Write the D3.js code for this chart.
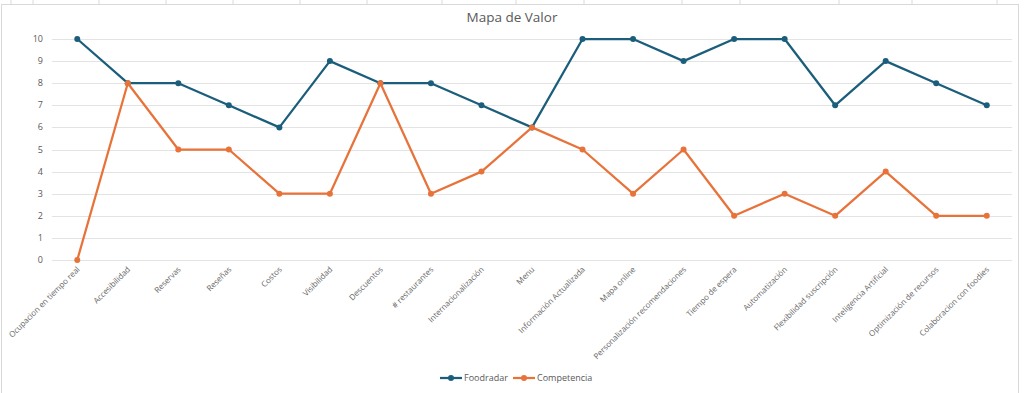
<!DOCTYPE html>
<html>
<head>
<meta charset="utf-8">
<script src="https://cdn.jsdelivr.net/npm/d3@7"></script>
<style>
  body { margin: 0; background: #fff; }
  text { font-family: "Open Sans", "Liberation Sans", sans-serif; }
</style>
</head>
<body>
<div id="chart"></div>
<script>
var w = 1024;
var h = 393;

var categories = ["Ocupacion en tiempo real", "Accesibilidad", "Reservas", "Reseñas", "Costos",
  "Visibilidad", "Descuentos", "# restaurantes", "Internacionalización", "Menu",
  "Información Actualizada", "Mapa online", "Personalización recomendaciones", "Tiempo de espera",
  "Automatización", "Flexibilidad suscripción", "Inteligencia Artificial",
  "Optimización de recursos", "Colaboracion con foodies"];
var foodradar = [10, 8, 8, 7, 6, 9, 8, 8, 7, 6, 10, 10, 9, 10, 10, 7, 9, 8, 7];
var competencia = [0, 8, 5, 5, 3, 3, 8, 3, 4, 6, 5, 3, 5, 2, 3, 2, 4, 2, 2];
var yTicks = [0, 1, 2, 3, 4, 5, 6, 7, 8, 9, 10];
var seriesNames = ["Foodradar", "Competencia"];
var colors = ["#1b5e7c", "#e8733a"];

var svg1 = d3.select("#chart").append("svg")
  .attr("width", w).attr("height", h);

// spreadsheet cell lines peeking above the chart box
var cellLines = [11, 33, 99, 166, 233, 300, 367, 442, 516, 584, 682, 740, 839, 912, 997];
svg1.selectAll(".cell").data(cellLines).enter().append("line")
  .attr("x1", function(d) { return d; }).attr("x2", function(d) { return d; })
  .attr("y1", 0).attr("y2", 4)
  .style("stroke", "#dadada").style("stroke-width", 1);

// chart frame
svg1.append("rect")
  .attr("x", 1.5).attr("y", 4.5).attr("width", 1017).attr("height", 400)
  .attr("fill", "#fff").attr("stroke", "#d9d9d9").attr("stroke-width", 1);

var x = d3.scaleBand().domain(categories).range([52, 1012]);
var y = d3.scaleLinear().domain([0, 10]).range([260, 39]);

// gridlines
svg1.selectAll(".grid").data(yTicks).enter().append("line")
  .attr("x1", 52).attr("x2", 1012)
  .attr("y1", function(d) { return Math.round(y(d)) + 0.5; })
  .attr("y2", function(d) { return Math.round(y(d)) + 0.5; })
  .style("stroke", "#e3e3e3").style("stroke-width", 1);

// y labels
svg1.selectAll(".ylab").data(yTicks).enter().append("text")
  .attr("x", 43)
  .attr("y", function(d) { return y(d) + 3; })
  .attr("text-anchor", "end")
  .style("font-size", "9px").style("fill", "#595959")
  .text(function(d) { return d; });

// x labels
svg1.selectAll(".xlab").data(categories).enter().append("text")
  .attr("transform", function(d) {
    return "translate(" + (x(d) + x.bandwidth() / 2 + 3) + ",270) rotate(-45)";
  })
  .attr("text-anchor", "end")
  .style("font-size", "8px").style("fill", "#666666")
  .text(function(d) { return d; });

// title
svg1.append("text")
  .attr("x", 512).attr("y", 22)
  .attr("text-anchor", "middle")
  .style("font-size", "13.5px").style("fill", "#595959")
  .text("Mapa de Valor");

function drawSeries(values, color) {
  var line = d3.line()
    .x(function(d, i) { return x(categories[i]) + x.bandwidth() / 2; })
    .y(function(d) { return y(d); });
  svg1.append("path").datum(values)
    .attr("d", line)
    .attr("fill", "none")
    .attr("stroke", color)
    .attr("stroke-width", 2.25)
    .attr("stroke-linejoin", "round");
  svg1.selectAll(null).data(values).enter().append("circle")
    .attr("cx", function(d, i) { return x(categories[i]) + x.bandwidth() / 2; })
    .attr("cy", function(d) { return y(d); })
    .attr("r", 3)
    .attr("fill", color);
}

drawSeries(foodradar, colors[0]);
drawSeries(competencia, colors[1]);

// legend
var legendX = [440, 513];
seriesNames.forEach(function(name, i) {
  var g = svg1.append("g").attr("transform", "translate(" + legendX[i] + ",378)");
  g.append("line").attr("x1", 0).attr("x2", 22).attr("y1", 0).attr("y2", 0)
    .attr("stroke", colors[i]).attr("stroke-width", 2.25);
  g.append("circle").attr("cx", 11).attr("cy", 0).attr("r", 3).attr("fill", colors[i]);
  g.append("text").attr("x", 24).attr("y", 3)
    .style("font-size", "9px").style("fill", "#595959")
    .text(name);
});
</script>
</body>
</html>
